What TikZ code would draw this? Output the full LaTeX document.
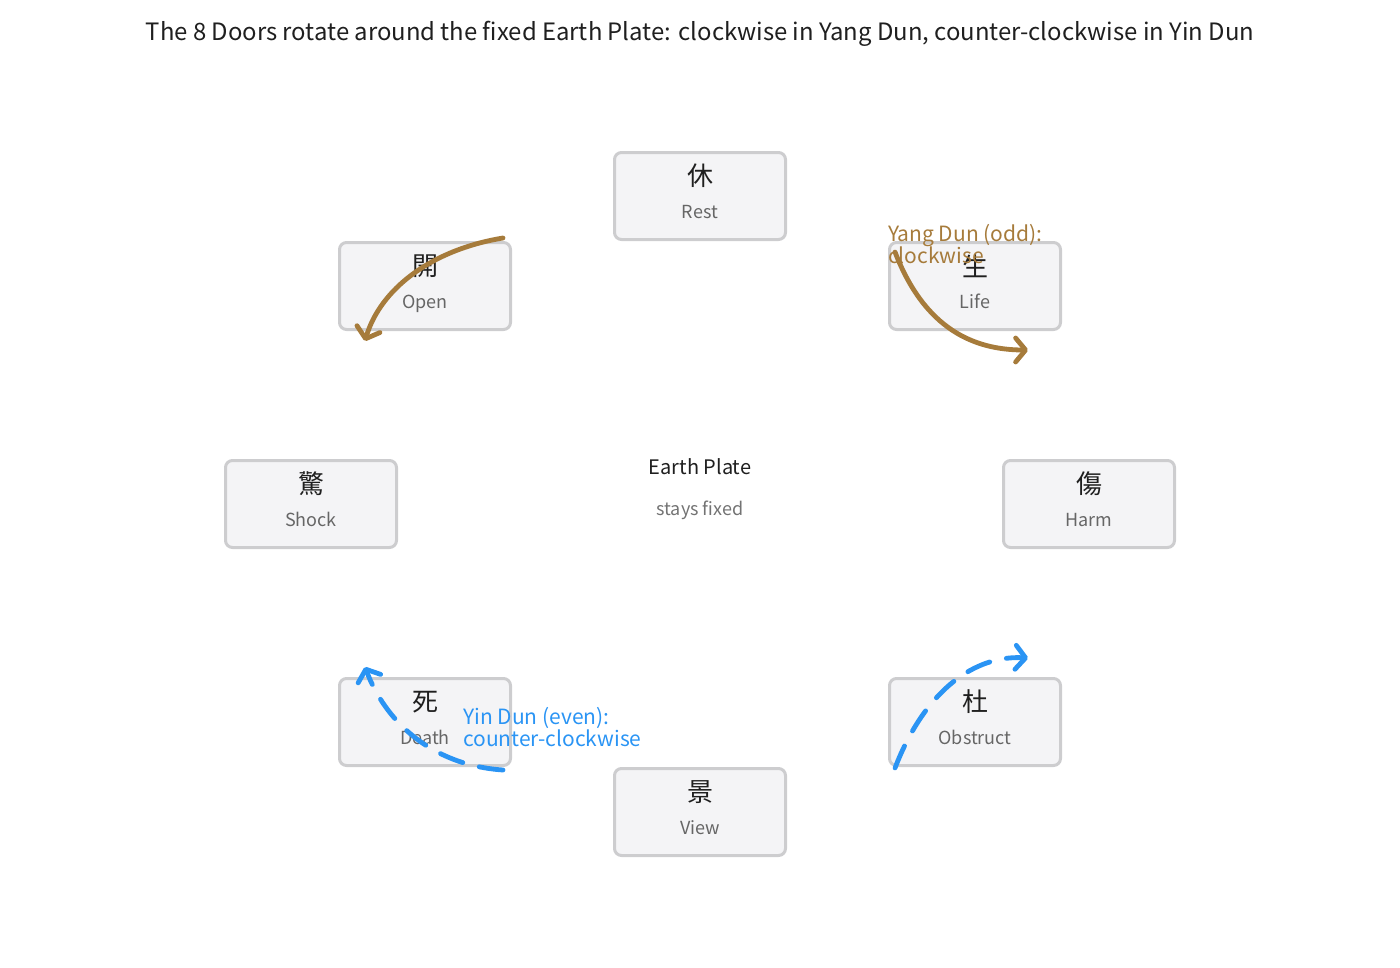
\documentclass[tikz,border=0pt]{standalone}
\usepackage{fontspec}
\setmainfont{Noto Sans CJK TC}
\usepackage{xcolor}
\usetikzlibrary{arrows.meta, positioning}
\definecolor{yangbrown}{HTML}{A67B3B}
\definecolor{yinblue}{HTML}{2A94F4}
\definecolor{doorfill}{HTML}{F4F4F6}
\definecolor{doorline}{HTML}{CDCDCF}
\tikzset{
door/.style={draw=doorline, line width=3pt, fill=doorfill, rounded corners=7pt,
  minimum width=171pt, minimum height=87pt}, % the box of each door
hanzi/.style={font=\fontsize{26}{28}\selectfont, text=black!88}, % the door's character
english/.style={font=\fontsize{18}{20}\selectfont, text=black!60, anchor=base}, % its english name
yang/.style={draw=yangbrown, line width=4.8pt, line cap=round,
  -{Straight Barb[length=10pt, width=24pt, round]}}, % clockwise turn
yin/.style={draw=yinblue, line width=4.8pt, line cap=round, dash pattern=on 24pt off 17pt,
  -{Straight Barb[length=10pt, width=24pt, round]}}, % counter-clockwise turn
}

\begin{document}
\begin{tikzpicture}[x=1pt, y=-1pt]
    \useasboundingbox (0,0) rectangle (1400,967);
    \node[font=\fontsize{23.9}{26}\selectfont, text=black!88] (title) at (700,34)
        {The 8 Doors rotate around the fixed Earth Plate: clockwise in Yang Dun, counter-clockwise in Yin Dun};

    % the eight doors
    \node[door] (rest) at (700,196) {};
    \node[hanzi] at (700,176) {休};
    \node[english] at (700,218) {Rest};

    \node[door] (open) at (425,286) {};
    \node[hanzi] at (425,266) {開};
    \node[english] at (425,308) {Open};

    \node[door] (life) at (975,286) {};
    \node[hanzi] at (975,266) {生};
    \node[english] at (975,308) {Life};

    \node[door] (shock) at (311,504) {};
    \node[hanzi] at (311,484) {驚};
    \node[english] at (311,526) {Shock};

    \node[door] (harm) at (1089,504) {};
    \node[hanzi] at (1089,484) {傷};
    \node[english] at (1089,526) {Harm};

    \node[door] (death) at (425,722) {};
    \node[hanzi] at (425,702) {死};
    \node[english] at (425,744) {Death};

    \node[door] (obstruct) at (975,722) {};
    \node[hanzi] at (975,702) {杜};
    \node[english] at (975,744) {Obstruct};

    \node[door] (view) at (700,812) {};
    \node[hanzi] at (700,792) {景};
    \node[english] at (700,834) {View};

    % the fixed centre
    \node[font=\fontsize{20}{22}\selectfont, text=black!88] (earth) at (700,467) {Earth Plate};
    \node[english, text=black!55] (fixed) at (700,515) {stays fixed};

    % direction of the turn
    \coordinate (yangA) at (503,238);
    \coordinate (yangB) at (365,341);
    \coordinate (yangC) at (895,252);
    \coordinate (yangD) at (1028,350);
    \draw[yang] (yangA) .. controls (430,250) and (380,290) .. (yangB);
    \draw[yang] (yangC) .. controls (925,330) and (975,350) .. (yangD);
    \node[anchor=north west, align=left, text=yangbrown, inner sep=0pt,
        font=\fontsize{21}{22}\selectfont] (yanglabel) at (888,224) {Yang Dun (odd):\\clockwise};

    \coordinate (yinA) at (503,770);
    \coordinate (yinB) at (365,667);
    \coordinate (yinC) at (895,768);
    \coordinate (yinD) at (1028,658);
    \draw[yin] (yinA) .. controls (430,765) and (385,720) .. (yinB);
    \draw[yin] (yinC) .. controls (925,690) and (975,655) .. (yinD);
    \node[anchor=north west, align=left, text=yinblue, inner sep=0pt,
        font=\fontsize{21}{22}\selectfont] (yinlabel) at (463,707) {Yin Dun (even):\\counter-clockwise};
\end{tikzpicture}
\end{document}
